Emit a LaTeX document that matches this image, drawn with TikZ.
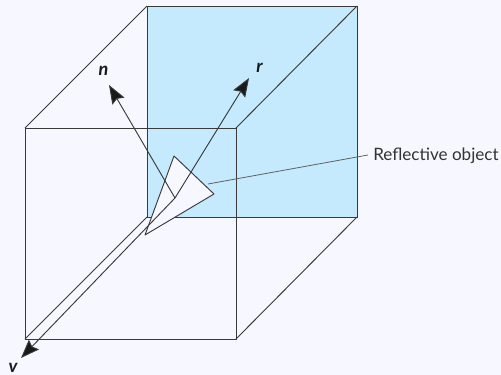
\documentclass[tikz,border=0pt]{standalone}
\usepackage{xcolor}
\usepackage{fontspec}
\setsansfont{Lato}
\usetikzlibrary{arrows.meta}
\definecolor{pagebg}{HTML}{F7F7FF}
\definecolor{wallblue}{HTML}{C5E9FD}
\definecolor{edgegray}{HTML}{3A3A3A}
\tikzset{
  edge/.style={draw=edgegray, line width=0.7pt},
  vecline/.style={edge, -{Stealth[length=14pt,width=10.5pt,inset=2pt,fill=black!90]}},
  veclabel/.style={font=\sffamily\fontseries{b}\itshape\fontsize{13.5}{13.5}\selectfont, text=black!90, inner sep=0pt, anchor=base},
}

\begin{document}
\begin{tikzpicture}[x=0.75pt,y=-0.75pt]
    \useasboundingbox[fill=pagebg] (0,0) rectangle (501,375);
    % Back wall
    \coordinate (bTL) at (147,6);
    \coordinate (bTR) at (357,6);
    \coordinate (bBR) at (357,217);
    \coordinate (bBL) at (147,217);
    \fill[wallblue] (bTL) rectangle (bBR);
    \draw[edge] (bTL) -- (bTR) -- (bBR) -- (bBL) -- cycle;

    % Front face
    \coordinate (fTL) at (25,128);
    \coordinate (fTR) at (236,128);
    \coordinate (fBR) at (236,339);
    \coordinate (fBL) at (25,339);
    \draw[edge] (fTL) -- (fTR) -- (fBR) -- (fBL) -- cycle;
    \foreach \a/\b in {bTL/fTL,bTR/fTR,bBR/fBR,bBL/fBL} {
      \draw[edge] (\a) -- (\b);
    }

    % Reflective object
    \coordinate (hit) at (175,198);
    \coordinate (apex) at (174,156);
    \coordinate (wing) at (214,194);
    \coordinate (tail) at (145,235);
    \filldraw[edge, fill=pagebg, line join=round] (apex) -- (wing) -- (tail) -- cycle;

    % Vectors
    \coordinate (nTip) at (109,85);
    \coordinate (rTip) at (249,78);
    \coordinate (vTip) at (21,358);
    \draw[vecline] (hit) -- (nTip);
    \draw[vecline] (hit) -- (rTip);
    \draw[vecline] (hit) -- (vTip);
    \node[veclabel] (nLabel) at (103.5,75) {n};
    \node[veclabel] (rLabel) at (259.5,72) {r};
    \node[veclabel] (vLabel) at (13,372) {v};

    % Callout
    \node[font=\sffamily\fontsize{12.8}{14}\selectfont, text=black!80, inner sep=0pt, anchor=west] (objLabel) at (373,156) {Reflective object};
    \coordinate (objPoint) at (208,184);
    \draw[edgegray!80, line width=0.6pt] (objPoint) -- (368,155);
\end{tikzpicture}
\end{document}
